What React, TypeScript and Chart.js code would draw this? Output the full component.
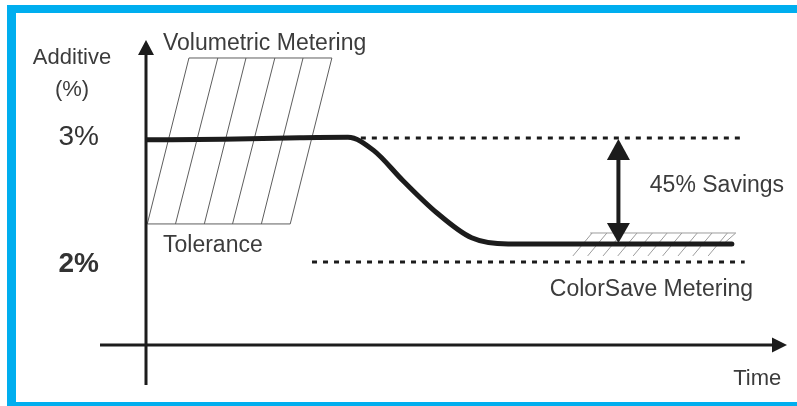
import React, { useEffect, useRef } from 'react';
import { Chart, registerables } from 'chart.js';

Chart.register(...registerables);

// ---- data (time in arbitrary units 0..100, additive in %) ----
const timePoints = [0, 12, 24, 31.5, 35.5, 40.1, 45.4, 50.8, 56.5, 91.4];
const additiveLevels = [2.985, 2.99, 3.002, 3.006, 2.9, 2.655, 2.395, 2.195, 2.145, 2.145];

const volumetricLevel = 3.0;
const volumetricRefX = [31.8, 93.4];
const colorSaveRefLevel = 2.0;
const colorSaveRefX = [25.9, 93.4];

const tickValues = [2, 3];
const tickLabels = ['2%', '3%'];

// tolerance band of volumetric metering
const volBandTopY = 3.645;
const volBandBottomY = 2.307;
const volBandTopX = [6.7, 11.2, 15.6, 20.1, 24.5, 29.0];
const volBandBottomX = [0.2, 4.6, 9.1, 13.5, 18.0, 22.5];

// tolerance band of ColorSave metering
const csBandTopY = 2.234;
const csBandBottomY = 2.049;
const csBandEdgeX = [69.3, 92.0];
const csBandHatchTopX = [69.6, 71.9, 74.3, 76.6, 79.0, 81.3, 83.6, 86.0, 88.3, 90.7];
const csBandSlant = 3.0;

const savingsX = 73.7;
const savingsRange = [3.0, 2.145];

const FONT = '"Liberation Sans", Arial, Helvetica, sans-serif';
const INK = '#1c1c1c';
const TEXT = '#3c3c3c';
const BLUE = '#00aeef';

function arrowHead(ctx: CanvasRenderingContext2D, tipX: number, tipY: number, dir: 'up' | 'down' | 'right', len: number, half: number) {
  ctx.beginPath();
  if (dir === 'up') {
    ctx.moveTo(tipX, tipY);
    ctx.lineTo(tipX - half, tipY + len);
    ctx.lineTo(tipX + half, tipY + len);
  } else if (dir === 'down') {
    ctx.moveTo(tipX, tipY);
    ctx.lineTo(tipX - half, tipY - len);
    ctx.lineTo(tipX + half, tipY - len);
  } else {
    ctx.moveTo(tipX, tipY);
    ctx.lineTo(tipX - len, tipY - half);
    ctx.lineTo(tipX - len, tipY + half);
  }
  ctx.closePath();
  ctx.fill();
}

const decorPlugin = {
  id: 'decor',
  beforeDraw(chart: any) {
    const { ctx, width, height } = chart;
    ctx.save();
    ctx.fillStyle = '#ffffff';
    ctx.fillRect(0, 0, width, height);
    ctx.fillStyle = BLUE;
    ctx.fillRect(7, 5, 9, height - 5);
    ctx.fillRect(7, 5, width - 7, 8);
    ctx.fillRect(7, 402, width - 7, 4);
    ctx.restore();
  },
  beforeDatasetsDraw(chart: any) {
    const { ctx, chartArea } = chart;
    const xs = chart.scales.x;
    const ys = chart.scales.y;
    ctx.save();
    // volumetric tolerance band
    ctx.strokeStyle = '#5e5e5e';
    ctx.lineWidth = 1;
    ctx.beginPath();
    ctx.moveTo(xs.getPixelForValue(volBandTopX[0]), ys.getPixelForValue(volBandTopY));
    ctx.lineTo(xs.getPixelForValue(volBandTopX[volBandTopX.length - 1]), ys.getPixelForValue(volBandTopY));
    ctx.moveTo(xs.getPixelForValue(volBandBottomX[0]), ys.getPixelForValue(volBandBottomY));
    ctx.lineTo(xs.getPixelForValue(volBandBottomX[volBandBottomX.length - 1]), ys.getPixelForValue(volBandBottomY));
    for (let i = 0; i < volBandTopX.length; i++) {
      ctx.moveTo(xs.getPixelForValue(volBandTopX[i]), ys.getPixelForValue(volBandTopY));
      ctx.lineTo(xs.getPixelForValue(volBandBottomX[i]), ys.getPixelForValue(volBandBottomY));
    }
    ctx.stroke();

    // ColorSave tolerance band
    ctx.strokeStyle = '#9c9c9c';
    ctx.beginPath();
    ctx.moveTo(xs.getPixelForValue(csBandEdgeX[0]), ys.getPixelForValue(csBandTopY));
    ctx.lineTo(xs.getPixelForValue(csBandEdgeX[1]), ys.getPixelForValue(csBandTopY));
    ctx.moveTo(xs.getPixelForValue(csBandEdgeX[1]), ys.getPixelForValue(csBandTopY));
    ctx.lineTo(xs.getPixelForValue(csBandEdgeX[1] - csBandSlant * 0.6), ys.getPixelForValue((csBandTopY + csBandBottomY) / 2 + 0.01));
    for (const t of csBandHatchTopX) {
      ctx.moveTo(xs.getPixelForValue(t), ys.getPixelForValue(csBandTopY));
      ctx.lineTo(xs.getPixelForValue(t - csBandSlant), ys.getPixelForValue(csBandBottomY));
    }
    ctx.stroke();

    // axes
    const x0 = chartArea.left;
    const yb = chartArea.bottom;
    ctx.strokeStyle = INK;
    ctx.fillStyle = INK;
    ctx.lineWidth = 3;
    ctx.beginPath();
    ctx.moveTo(x0, yb + 40);
    ctx.lineTo(x0, chartArea.top + 12);
    ctx.moveTo(x0 - 46, yb);
    ctx.lineTo(chartArea.right - 12, yb);
    ctx.stroke();
    arrowHead(ctx, x0, chartArea.top, 'up', 15, 8);
    arrowHead(ctx, chartArea.right, yb, 'right', 15, 7.5);
    ctx.restore();
  },
  afterDatasetsDraw(chart: any) {
    const { ctx } = chart;
    const xs = chart.scales.x;
    const ys = chart.scales.y;
    ctx.save();
    // savings double arrow
    const ax = xs.getPixelForValue(savingsX);
    const yTop = ys.getPixelForValue(savingsRange[0]);
    const yBot = ys.getPixelForValue(savingsRange[1]);
    ctx.strokeStyle = INK;
    ctx.fillStyle = INK;
    ctx.lineWidth = 4;
    ctx.beginPath();
    ctx.moveTo(ax, yTop + 15);
    ctx.lineTo(ax, yBot - 15);
    ctx.stroke();
    arrowHead(ctx, ax, yTop + 1, 'up', 21, 11.5);
    arrowHead(ctx, ax, yBot - 1, 'down', 20, 11.5);

    // texts
    ctx.fillStyle = TEXT;
    ctx.textBaseline = 'alphabetic';
    ctx.textAlign = 'left';
    ctx.font = `23px ${FONT}`;
    ctx.fillText('Volumetric Metering', xs.getPixelForValue(2.65), ys.getPixelForValue(3.709));
    ctx.fillText('Tolerance', xs.getPixelForValue(2.65), ys.getPixelForValue(2.081));
    ctx.fillText('45% Savings', xs.getPixelForValue(78.6), ys.getPixelForValue(2.565));
    ctx.fillText('ColorSave Metering', xs.getPixelForValue(63.0), ys.getPixelForValue(1.726));
    ctx.font = `22px ${FONT}`;
    ctx.fillText('Time', xs.getPixelForValue(91.6), ys.getPixelForValue(1.009));
    ctx.textAlign = 'center';
    ctx.fillText('Additive', 72, ys.getPixelForValue(3.596));
    ctx.fillText('(%)', 72, ys.getPixelForValue(3.339));

    // tick labels
    ctx.textAlign = 'right';
    tickValues.forEach((v, i) => {
      ctx.font = v === 2 ? `bold 28px ${FONT}` : `28px ${FONT}`;
      ctx.fillStyle = '#333333';
      const off = v === 2 ? 10 : 7;
      ctx.fillText(tickLabels[i], 99, ys.getPixelForValue(v) + off);
    });
    ctx.restore();
  },
};

export default function App() {
  const ref = useRef<HTMLCanvasElement>(null);
  useEffect(() => {
    const canvas = ref.current;
    if (!canvas) return;
    const curve = timePoints.map((t, i) => ({ x: t, y: additiveLevels[i] }));
    const chart = new Chart(canvas, {
      type: 'line',
      data: {
        datasets: [
          {
            data: volumetricRefX.map((x) => ({ x, y: volumetricLevel })),
            borderColor: INK,
            borderWidth: 3,
            borderDash: [5, 6],
            pointRadius: 0,
            fill: false,
          },
          {
            data: colorSaveRefX.map((x) => ({ x, y: colorSaveRefLevel })),
            borderColor: INK,
            borderWidth: 3,
            borderDash: [5, 6],
            pointRadius: 0,
            fill: false,
          },
          {
            data: curve,
            borderColor: INK,
            borderWidth: 5,
            pointRadius: 0,
            cubicInterpolationMode: 'monotone',
            borderCapStyle: 'round',
            borderJoinStyle: 'round',
            fill: false,
          },
        ],
      },
      options: {
        responsive: false,
        animation: false,
        devicePixelRatio: 1,
        layout: { padding: { left: 146, right: 10, top: 40, bottom: 61 } },
        plugins: { legend: { display: false }, tooltip: { enabled: false } },
        scales: {
          x: { type: 'linear', display: false, min: 0, max: 100 },
          y: { type: 'linear', display: false, min: 1.331, max: 3.79 },
        },
      } as any,
      plugins: [decorPlugin],
    });
    return () => chart.destroy();
  }, []);
  return (
    <div style={{ position: 'fixed', left: 0, top: 0, width: 797, height: 406, background: '#fff' }}>
      <canvas ref={ref} width={797} height={406} style={{ display: 'block', width: 797, height: 406 }} />
    </div>
  );
}
